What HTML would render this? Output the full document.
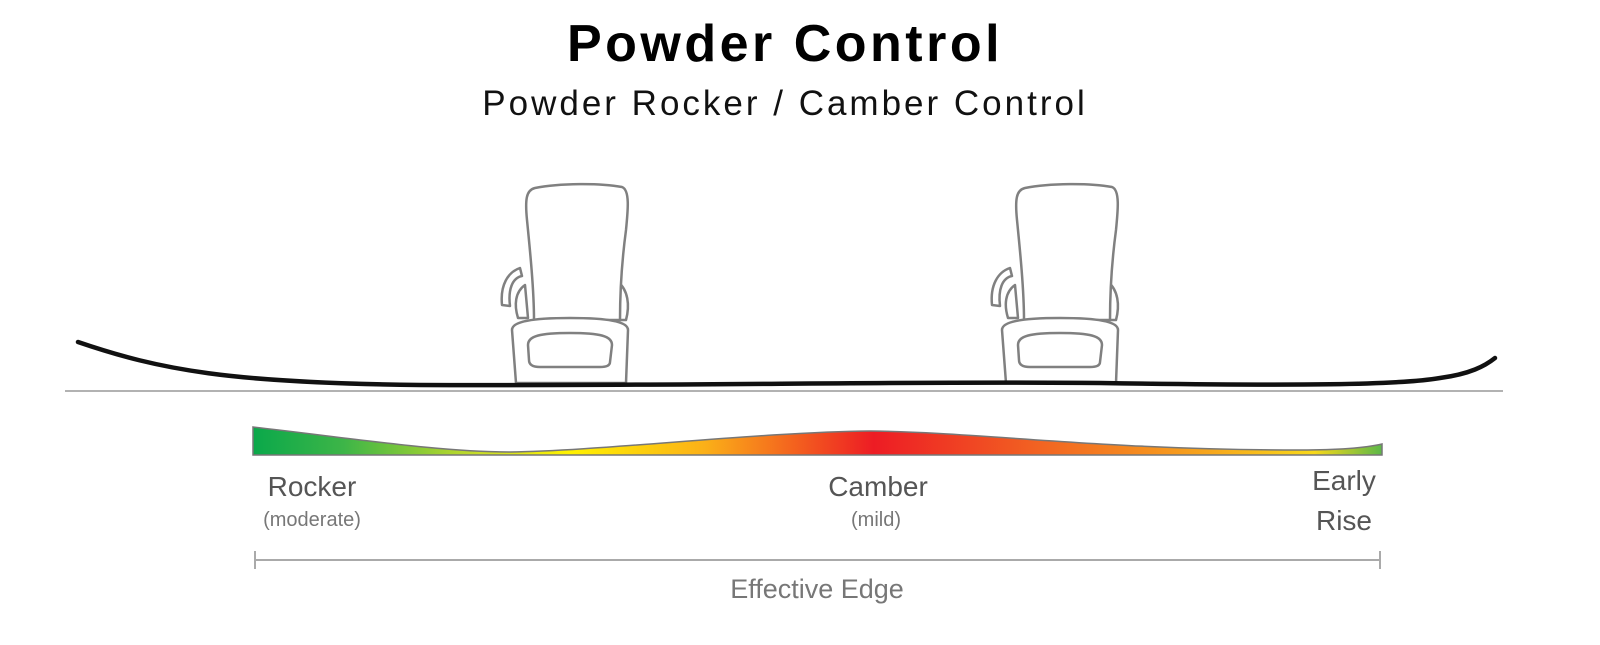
<!DOCTYPE html>
<html><head><style>
body{margin:0;background:#fff;width:1600px;height:640px;overflow:hidden;font-family:"Liberation Sans",sans-serif}
</style></head><body>
<svg width="1600" height="640" viewBox="0 0 1600 640" xmlns="http://www.w3.org/2000/svg">
<defs>
<linearGradient id="g" x1="253" x2="1382" y1="0" y2="0" gradientUnits="userSpaceOnUse">
<stop offset="0" stop-color="#0aa84a"/>
<stop offset="0.08" stop-color="#3db548"/>
<stop offset="0.2" stop-color="#c8dc28"/>
<stop offset="0.28" stop-color="#fff200"/>
<stop offset="0.4" stop-color="#fbb018"/>
<stop offset="0.55" stop-color="#ed1c24"/>
<stop offset="0.7" stop-color="#f26522"/>
<stop offset="0.85" stop-color="#f7a81c"/>
<stop offset="0.94" stop-color="#f8d81a"/>
<stop offset="1" stop-color="#5cb848"/>
</linearGradient>
<g id="b" fill="#fff" stroke="#808080" stroke-width="2.5" stroke-linejoin="round">
<path d="M520 268 C508 272 500 285 502 305 L510 306 C508 290 512 278 522 276 Z"/>
<path d="M525 285 C515 292 514 305 518 318 L528 318 Z"/>
<path d="M618 282 C628 290 630 305 626 320 L616 320 Z"/>
<path d="M535 188 C560 183 600 183 622 187 C630 190 628 210 626 230 C622 260 620 290 620 320 L534 320 C534 290 530 250 527 220 C525 200 526 190 535 188 Z"/>
<path d="M512 330 C512 322 530 318 570 318 C610 318 628 322 628 330 L626 383 L516 383 Z"/>
<path d="M528 345 C528 336 540 333 570 333 C600 333 612 336 612 345 L610 362 C610 366 606 367 600 367 L540 367 C533 367 529 365 529 360 Z"/>
</g>
</defs>
<text x="785" y="61" text-anchor="middle" font-size="52" font-weight="bold" letter-spacing="3.5" fill="#000">Powder Control</text>
<text x="785" y="115" text-anchor="middle" font-size="35" letter-spacing="3" fill="#111">Powder Rocker / Camber Control</text>
<line x1="65" y1="391" x2="1503" y2="391" stroke="#999" stroke-width="1.5"/>
<use href="#b"/>
<use href="#b" x="490"/>
<path d="M78 342 C160 370 230 383 420 385 C700 386 900 381 1100 383 C1300 386 1400 385 1440 378 C1470 374 1485 366 1495 358" fill="none" stroke="#111" stroke-width="4.5" stroke-linecap="round"/>
<path d="M253 427 C350 438 440 452 510 452 C600 451 760 432 870 431 C980 432 1100 450 1300 450 C1340 450 1365 448 1382 444 L1382 455 L253 455 Z" fill="url(#g)" stroke="#777" stroke-width="1.5"/>
<g fill="#555" text-anchor="middle">
<text x="312" y="496" font-size="28">Rocker</text>
<text x="312" y="526" font-size="20" fill="#777">(moderate)</text>
<text x="878" y="496" font-size="28">Camber</text>
<text x="876" y="526" font-size="20" fill="#777">(mild)</text>
<text x="1344" y="490" font-size="28">Early</text>
<text x="1344" y="530" font-size="28">Rise</text>
<text x="817" y="598" font-size="27" fill="#777">Effective Edge</text>
</g>
<g stroke="#aaa" stroke-width="2">
<line x1="255" y1="560" x2="1380" y2="560"/>
<line x1="255" y1="551" x2="255" y2="569"/>
<line x1="1380" y1="551" x2="1380" y2="569"/>
</g>
</svg>
</body></html>
